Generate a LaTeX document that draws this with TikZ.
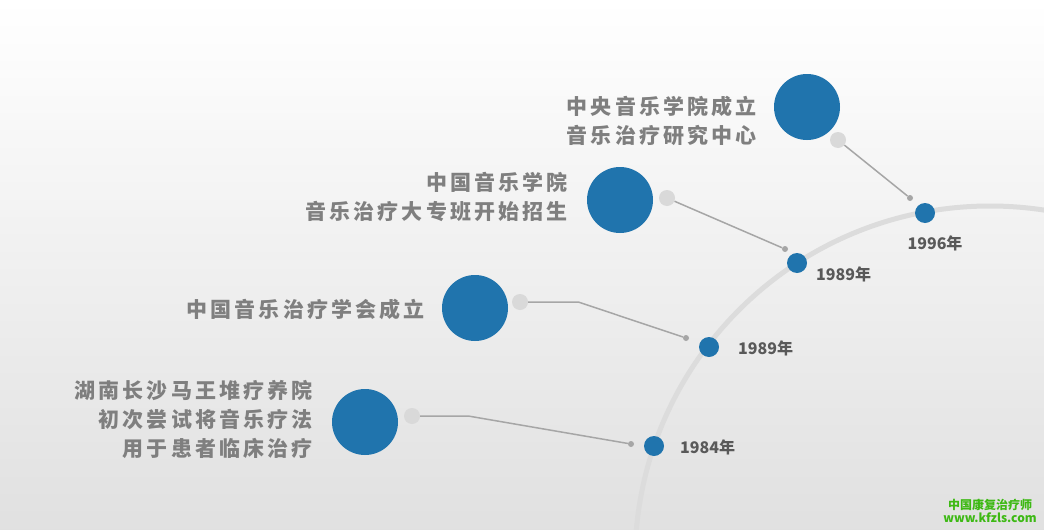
\documentclass[tikz,border=0pt]{standalone}
\usepackage{fontspec}
\usepackage{xcolor}
\usepackage{tikz}
\usetikzlibrary{positioning}
\newfontfamily\cjk[LetterSpace=15]{Noto Sans CJK SC}
\newfontfamily\yearfont{Noto Sans CJK SC}
\definecolor{dotblue}{HTML}{2074AD}
\definecolor{knobgray}{HTML}{D9D9D9}
\definecolor{arcgray}{HTML}{DCDCDC}
\definecolor{linegray}{HTML}{A6A6A6}
\definecolor{textgray}{HTML}{7F7F7F}
\definecolor{yeargray}{HTML}{595959}
\definecolor{markgreen}{HTML}{3DB914}

\begin{document}
\begin{tikzpicture}[
  x=1pt, y=-1pt,
  every node/.style={inner sep=0pt},
  event/.style={circle, fill=dotblue, minimum size=66pt},
  knob/.style={circle, fill=knobgray, minimum size=16pt},
  tip/.style={circle, fill=linegray, minimum size=6pt},
  yeardot/.style={circle, fill=dotblue, minimum size=20pt},
  link/.style={draw=linegray, line width=1.5pt},
  note/.style={font=\cjk\bfseries\fontsize{21}{29}\selectfont, text=textgray,
    align=right, anchor=east},
  year/.style={font=\yearfont\bfseries\fontsize{16}{18}\selectfont, text=yeargray},
  sitemark/.style={font=\yearfont\bfseries\fontsize{12}{14}\selectfont, text=markgreen},
]
  \useasboundingbox (0,0) rectangle (1044,530);
  \shade[top color=white, bottom color=black!12] (0,0) rectangle (1044,530);

  % timeline arc
  \begin{scope}
    \clip (0,0) rectangle (1044,530);
    \draw[arcgray, line width=5pt] (990,561) circle[radius=355pt];
  \end{scope}

  % 1996
  \node[event] (c96) at (807,107) {};
  \node[knob] (k96) at (838,140) {};
  \node[tip] (t96) at (910,198) {};
  \node[yeardot] (y96) at (925,213) {};
  \node[year] (l96) at (935,243) {1996年};
  \node[note] (n96) at (757,121) {中央音乐学院成立\\音乐治疗研究中心};
  \draw[link] (k96) -- (t96);

  % 1989, college
  \node[event] (c89a) at (620,200) {};
  \node[knob] (k89a) at (667,198) {};
  \node[tip] (t89a) at (785,249) {};
  \node[yeardot] (y89a) at (797,263) {};
  \node[year, anchor=west] (l89a) at (816,274) {1989年};
  \node[note] (n89a) at (568,197) {中国音乐学院\\音乐治疗大专班开始招生};
  \draw[link] (k89a) -- (t89a);

  % 1989, society
  \node[event] (c89b) at (475,308) {};
  \node[knob] (k89b) at (520,302) {};
  \node[tip] (t89b) at (686,338) {};
  \node[yeardot] (y89b) at (709,347) {};
  \node[year, anchor=west] (l89b) at (738,348) {1989年};
  \node[note] (n89b) at (425,309) {中国音乐治疗学会成立};
  \draw[link] (k89b.east) -- ++(50,0) -- (t89b);

  % 1984
  \node[event] (c84) at (365,422) {};
  \node[knob] (k84) at (412,416) {};
  \node[tip] (t84) at (631,444) {};
  \node[yeardot] (y84) at (654,446) {};
  \node[year, anchor=west] (l84) at (680,447) {1984年};
  \node[note] (n84) at (313,419) {湖南长沙马王堆疗养院\\初次尝试将音乐疗法\\用于患者临床治疗};
  \draw[link] (k84.east) -- ++(48,0) -- (t84);

  \node[sitemark] (mk1) at (990,505) {中国康复治疗师};
  \node[sitemark, below=2pt of mk1] (mk2) {www.kfzls.com};
\end{tikzpicture}
\end{document}
